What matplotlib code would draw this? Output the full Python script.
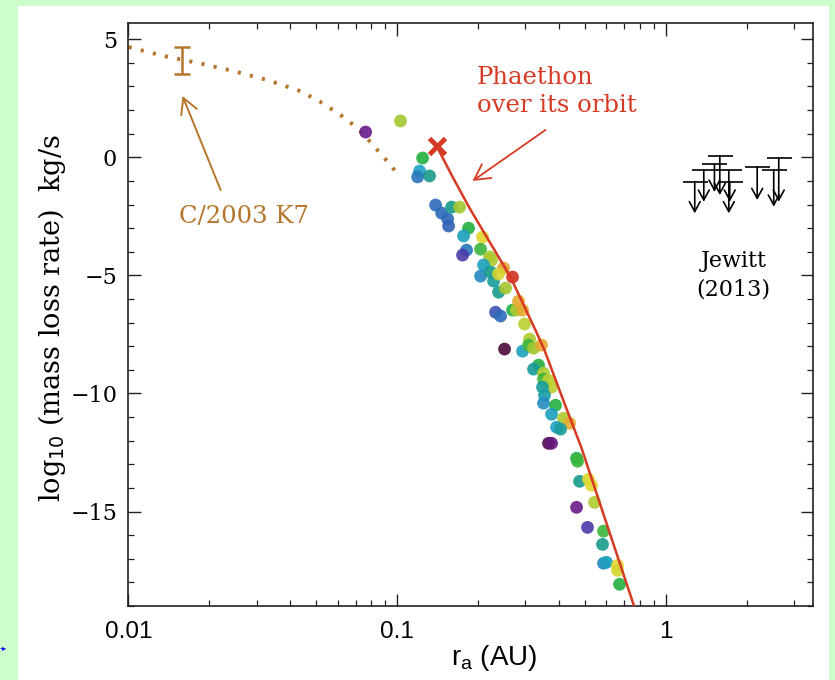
import matplotlib
matplotlib.use("Agg")
import matplotlib.pyplot as plt
import matplotlib.patches as mpatches
from matplotlib.colors import LinearSegmentedColormap
from matplotlib.ticker import FixedLocator, LogLocator, NullFormatter, FixedFormatter
import numpy as np

# sungrazer / near-sun object points: r_a (AU), log10 mass loss rate, colour value
ra = [0.0763, 0.1029, 0.1243, 0.1211, 0.1191, 0.1319, 0.1389, 0.1463, 0.1540, 0.1553,
      0.1593, 0.1706, 0.1842, 0.1765, 0.2077, 0.1811, 0.1750, 0.2042, 0.2206, 0.2244,
      0.2095, 0.2042, 0.2225, 0.2282, 0.2382, 0.2529, 0.2486, 0.2382, 0.2685, 0.2321,
      0.2423, 0.2685, 0.2779, 0.2827, 0.2926, 0.2976, 0.2507, 0.2926, 0.3106, 0.3080,
      0.3214, 0.3441, 0.3354, 0.3214, 0.3500, 0.3500, 0.3654, 0.3750, 0.3470, 0.3531,
      0.3500, 0.3880, 0.3750, 0.4155, 0.4374, 0.3914, 0.4050, 0.3654, 0.3750, 0.4645,
      0.4685, 0.4766, 0.5147, 0.5281, 0.4645, 0.5419, 0.5103, 0.5852, 0.5802, 0.5852,
      0.6004, 0.6598, 0.6598, 0.6712]
mlr = [1.07, 1.54, -0.03, -0.58, -0.83, -0.79, -2.02, -2.36, -2.61, -2.91,
       -2.11, -2.11, -3.00, -3.33, -3.38, -3.93, -4.14, -3.89, -4.22, -4.35,
       -4.56, -5.03, -4.86, -5.24, -5.71, -5.54, -4.69, -4.94, -5.07, -6.56,
       -6.72, -6.47, -6.47, -6.09, -6.47, -7.06, -8.12, -8.21, -7.70, -7.95,
       -8.08, -7.95, -8.80, -8.97, -9.14, -9.39, -9.44, -9.73, -9.73, -10.07,
       -10.41, -10.50, -10.88, -11.05, -11.26, -11.43, -11.51, -12.11, -12.11, -12.74,
       -12.87, -13.72, -13.63, -13.89, -14.82, -14.61, -15.67, -15.83, -16.39, -17.19,
       -17.15, -17.28, -17.49, -18.08]
cval = [0.10, 0.70, 0.60, 0.40, 0.32, 0.50, 0.30, 0.30, 0.30, 0.28,
        0.50, 0.70, 0.60, 0.42, 0.80, 0.32, 0.20, 0.62, 0.70, 0.72,
        0.42, 0.35, 0.50, 0.48, 0.50, 0.70, 0.90, 0.78, 1.00, 0.25,
        0.30, 0.60, 0.72, 0.88, 0.88, 0.74, 0.00, 0.42, 0.72, 0.62,
        0.70, 0.88, 0.60, 0.48, 0.72, 0.62, 0.74, 0.74, 0.48, 0.46,
        0.36, 0.60, 0.42, 0.72, 0.88, 0.40, 0.48, 0.02, 0.08, 0.60,
        0.62, 0.50, 0.80, 0.80, 0.10, 0.72, 0.20, 0.62, 0.50, 0.35,
        0.42, 0.80, 0.78, 0.60]

# Phaethon over its orbit
ph_r = [0.1401, 0.1607, 0.1858, 0.2187, 0.2639, 0.3268, 0.3531, 0.4150, 0.4850, 0.5900, 0.7565, 0.769]
ph_m = [0.48, -0.83, -2.15, -3.51, -5.07, -7.32, -8.17, -10.30, -12.32, -15.24, -18.93, -19.2]
ph_now_r, ph_now_m = 0.140, 0.48

# C/2003 K7 model curve and measurement
k7_r = [0.01003, 0.01354, 0.01827, 0.02465, 0.03297, 0.04374, 0.05191, 0.06159,
        0.07186, 0.08241, 0.09369, 0.1003]
k7_m = [4.67, 4.29, 3.99, 3.65, 3.27, 2.80, 2.34, 1.79, 1.20, 0.44, -0.28, -0.71]
k7_pt_r, k7_pt_m, k7_lo, k7_hi = 0.0159, 4.11, 3.53, 4.69

# Jewitt (2013) upper limits
jw_r = [1.278, 1.381, 1.584, 1.513, 1.711, 1.725, 2.182, 2.624, 2.514]
jw_top = [-1.03, -0.54, 0.07, -0.30, -0.54, -1.03, -0.40, -0.04, -0.54]
jw_tip = [-2.37, -1.88, -1.60, -1.46, -2.37, -1.88, -1.81, -1.88, -2.09]

xticks = [0.01, 0.1, 1]
xticklabels = ["0.01", "0.1", "1"]
yticks = [5, 0, -5, -10, -15]
yticklabels = ["5", "0", "\u22125", "\u221210", "\u221215"]

BROWN = "#b5762b"
RED = "#d63a22"
cmap = LinearSegmentedColormap.from_list("rb", [
    "#4e0a3c", "#6a1a8c", "#4a3aa8", "#2a6cb8", "#1ea2c8", "#169a8c",
    "#22b040", "#a2c82e", "#e2d830", "#e8a030", "#d03020"])

fig = plt.figure(figsize=(8.35, 6.8), dpi=100, facecolor="#ccffcc")
fig.patches.append(mpatches.Rectangle((18 / 835, 0), (829 - 18) / 835, 674 / 680,
                                      transform=fig.transFigure, facecolor="white",
                                      edgecolor="none", zorder=-10))
fig.text(0.0, 1 - 648 / 680, "-\u25b8", color="blue", fontsize=6, va="center")

ax = fig.add_axes([0.1537, 0.1088, 0.82, 0.8578])
ax.set_zorder(1)
ax.set_xscale("log")
ax.set_xlim(0.01, 3.52)
ax.set_ylim(-19, 5.7)

ax.plot(k7_r, k7_m, color=BROWN, lw=2.8, linestyle=(0, (0.8, 2.4)), zorder=2)
ax.errorbar([k7_pt_r], [k7_pt_m], yerr=[[k7_pt_m - k7_lo], [k7_hi - k7_pt_m]],
            fmt="none", ecolor=BROWN, elinewidth=1.8, capsize=6, capthick=1.8, zorder=3)

ax.scatter(ra, mlr, c=cval, cmap=cmap, vmin=0, vmax=1, s=85, alpha=0.9,
           edgecolors="none", zorder=3)

ax.plot(ph_r, ph_m, color=RED, lw=1.8, zorder=4)
ax.plot([ph_now_r], [ph_now_m], marker="x", color=RED, markersize=11, mew=3.5, zorder=5)

for x, top, tip in zip(jw_r, jw_top, jw_tip):
    ax.plot([x], [top], marker="_", color="black", markersize=18, mew=1.2, zorder=4)
    ax.annotate("", xy=(x, tip), xytext=(x, top),
                arrowprops=dict(arrowstyle="->,head_length=0.55,head_width=0.3",
                                color="black", lw=1.2, mutation_scale=13,
                                shrinkA=0, shrinkB=0))

ann_font = dict(family="DejaVu Serif", fontsize=17.5)
ax.text(0.1973, 3.10, "Phaethon", color=RED, ha="left", va="baseline", **ann_font)
ax.text(0.1973, 1.92, "over its orbit", color=RED, ha="left", va="baseline", **ann_font)
ax.annotate("", xy=(0.1907, -1.00), xytext=(0.3562, 1.16),
            arrowprops=dict(arrowstyle="->,head_length=0.55,head_width=0.3",
                            color=RED, lw=1.3, mutation_scale=20, shrinkA=0, shrinkB=0))

ax.text(0.01539, -2.78, "C/2003 K7", color=BROWN, ha="left", va="baseline", **ann_font)
ax.annotate("", xy=(0.0159, 2.60), xytext=(0.02205, -1.39),
            arrowprops=dict(arrowstyle="->,head_length=0.55,head_width=0.3",
                            color=BROWN, lw=1.4, mutation_scale=20, shrinkA=0, shrinkB=0))

ax.text(1.781, -4.63, "Jewitt", color="black", ha="center", va="baseline",
        family="DejaVu Serif", fontsize=16)
ax.text(1.781, -5.87, "(2013)", color="black", ha="center", va="baseline",
        family="DejaVu Serif", fontsize=16)

# axes styling
ax.xaxis.set_major_locator(FixedLocator(xticks))
ax.xaxis.set_major_formatter(FixedFormatter(xticklabels))
ax.xaxis.set_minor_locator(LogLocator(base=10, subs=np.arange(2, 10), numticks=20))
ax.xaxis.set_minor_formatter(NullFormatter())
ax.yaxis.set_major_locator(FixedLocator(yticks))
ax.yaxis.set_major_formatter(FixedFormatter(yticklabels))
ax.yaxis.set_minor_locator(FixedLocator(np.arange(-19, 6)))
ax.tick_params(which="both", direction="in", top=True, right=True, color="#222222")
ax.tick_params(which="major", length=9, width=1.0)
ax.tick_params(which="minor", length=4.5, width=0.9)
ax.tick_params(axis="x", pad=11)
ax.tick_params(axis="y", pad=8)
for lab in ax.get_xticklabels():
    lab.set_family("Liberation Sans")
    lab.set_fontsize(17.5)
for lab in ax.get_yticklabels():
    lab.set_family("DejaVu Serif")
    lab.set_fontsize(16)
for sp in ax.spines.values():
    sp.set_linewidth(1.2)
    sp.set_color("#222222")

fig.text(52 / 835, 1 - 318 / 680, r"log$_{10}$ (mass loss rate)  kg/s", rotation=90,
         ha="center", va="center", family="DejaVu Serif", fontsize=19.5)
fig.text(494 / 835, 1 - 658 / 680, r"r$_\mathregular{a}$ (AU)", ha="center", va="center",
         family="Liberation Sans", fontsize=20)

fig.savefig("out.png", dpi=100, facecolor=fig.get_facecolor())
